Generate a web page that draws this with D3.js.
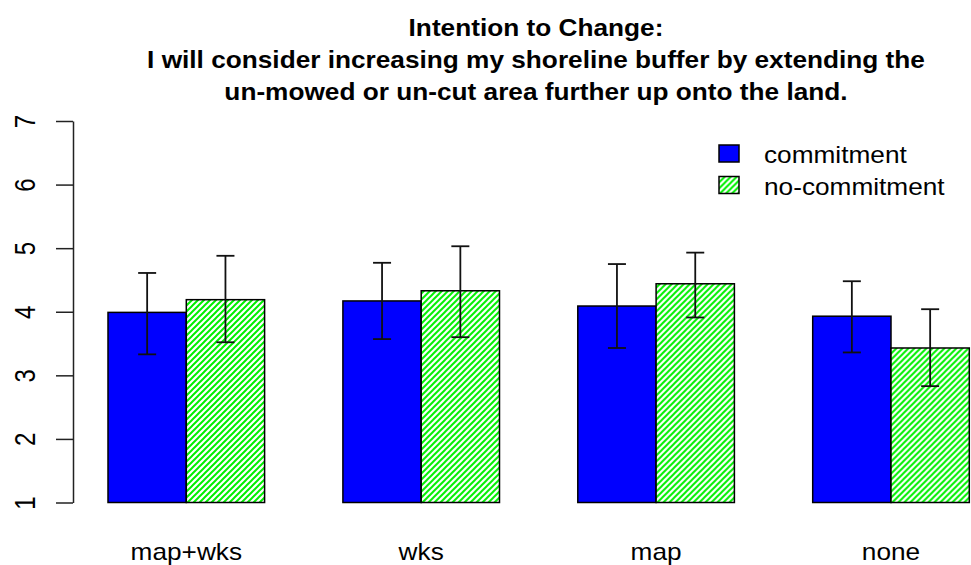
<!DOCTYPE html>
<html>
<head>
<meta charset="utf-8">
<script src="https://cdn.jsdelivr.net/npm/d3@7"></script>
<style>
  html, body { margin: 0; padding: 0; background: #fff; }
  svg { display: block; font-family: "Liberation Sans", Arial, sans-serif; }
</style>
</head>
<body>
<svg id="chart" width="971" height="565"></svg>
<script>
// Mean intention scores with error-bar limits per treatment group
const categories = ["map+wks", "wks", "map", "none"];
const seriesNames = ["commitment", "no-commitment"];
const commitment = [3.99, 4.17, 4.09, 3.93];
const commitmentLow = [3.33, 3.57, 3.43, 3.36];
const commitmentHigh = [4.61, 4.77, 4.75, 4.48];
const noCommitment = [4.19, 4.33, 4.44, 3.43];
const noCommitmentLow = [3.52, 3.60, 3.91, 2.83];
const noCommitmentHigh = [4.88, 5.03, 4.93, 4.04];
const yTicks = [1, 2, 3, 4, 5, 6, 7];
const titleLines = [
  "Intention to Change:",
  "I will consider increasing my shoreline buffer by extending the",
  "un-mowed or un-cut area further up onto the land."
];

const SX = 1.14; // horizontal text widening

const svg = d3.select("#chart");

// diagonal hatch for the no-commitment series
const P = 6;
const defs = svg.append("defs");
const pat = defs.append("pattern")
  .attr("id", "hatch")
  .attr("patternUnits", "userSpaceOnUse")
  .attr("width", P).attr("height", P);
pat.append("rect").attr("width", P).attr("height", P).attr("fill", "#fff");
pat.append("path")
  .attr("d", `M0,${P} L${P},0 M${-P / 2},${P / 2} L${P / 2},${-P / 2} M${P / 2},${P * 1.5} L${P * 1.5},${P / 2}`)
  .attr("stroke", "#00f000").attr("stroke-width", 2);

const rows = categories.map((c, i) => ({
  cat: c,
  bars: [
    { key: seriesNames[0], v: commitment[i], lo: commitmentLow[i], hi: commitmentHigh[i] },
    { key: seriesNames[1], v: noCommitment[i], lo: noCommitmentLow[i], hi: noCommitmentHigh[i] }
  ]
}));

const y = d3.scaleLinear().domain([1, 7]).range([502.5, 121]);
const x0 = d3.scaleBand().domain(categories).range([108, 969.3]).paddingInner(1 / 3).paddingOuter(0);
const x1 = d3.scaleBand().domain(seriesNames).range([0, x0.bandwidth()]);
const fills = { "commitment": "#0000ff", "no-commitment": "url(#hatch)" };

// bars
const groups = svg.append("g").selectAll("g").data(rows).join("g")
  .attr("transform", d => `translate(${x0(d.cat)},0)`);

groups.selectAll("rect").data(d => d.bars).join("rect")
  .attr("x", d => x1(d.key))
  .attr("y", d => y(d.v))
  .attr("width", x1.bandwidth())
  .attr("height", d => y(1) - y(d.v))
  .attr("fill", d => fills[d.key])
  .attr("stroke", "#000")
  .attr("stroke-width", 1.5);

// error bars
const eb = groups.selectAll("g.err").data(d => d.bars).join("g").attr("class", "err")
  .attr("transform", d => `translate(${x1(d.key) + x1.bandwidth() / 2},0)`)
  .attr("stroke", "#111").attr("stroke-width", 1.8);
eb.append("line").attr("x1", 0).attr("x2", 0).attr("y1", d => y(d.lo)).attr("y2", d => y(d.hi));
eb.append("line").attr("x1", -9).attr("x2", 9).attr("y1", d => y(d.lo)).attr("y2", d => y(d.lo));
eb.append("line").attr("x1", -9).attr("x2", 9).attr("y1", d => y(d.hi)).attr("y2", d => y(d.hi));

// y axis
const yAxis = svg.append("g").attr("transform", "translate(73,0)")
  .call(d3.axisLeft(y).tickValues(yTicks).tickSize(17).tickSizeOuter(0).tickFormat(d3.format("d")));
yAxis.select(".domain").attr("stroke", "#222").attr("stroke-width", 1.5);
yAxis.selectAll(".tick line").attr("stroke", "#222").attr("stroke-width", 1.5);
yAxis.selectAll(".tick text").remove();
yAxis.selectAll(".tick").append("text")
  .attr("transform", `translate(-38,0) scale(1.2,1) rotate(-90)`)
  .attr("text-anchor", "middle")
  .attr("fill", "#000")
  .style("font-size", "24px")
  .style("font-family", "'Liberation Sans', Arial, sans-serif")
  .text(d => d);

// category labels
svg.append("g").selectAll("text").data(categories).join("text")
  .attr("transform", d => `translate(${x0(d) + x0.bandwidth() / 2},560) scale(${SX},1)`)
  .attr("text-anchor", "middle")
  .style("font-size", "23px")
  .text(d => d);

// title
svg.append("g").selectAll("text").data(titleLines).join("text")
  .attr("transform", (d, i) => `translate(536,${36 + i * 32}) scale(${SX},1)`)
  .attr("text-anchor", "middle")
  .style("font-size", "23px")
  .style("font-weight", "bold")
  .text(d => d);

// legend
const legend = svg.append("g").selectAll("g").data(seriesNames).join("g")
  .attr("transform", (d, i) => `translate(719,${145 + i * 31.5})`);
legend.append("rect")
  .attr("width", 20).attr("height", 17)
  .attr("fill", d => fills[d])
  .attr("stroke", "#000").attr("stroke-width", 1.5);
legend.append("text")
  .attr("transform", `translate(45,18) scale(${SX},1)`)
  .style("font-size", "23px")
  .text(d => d);
</script>
</body>
</html>
